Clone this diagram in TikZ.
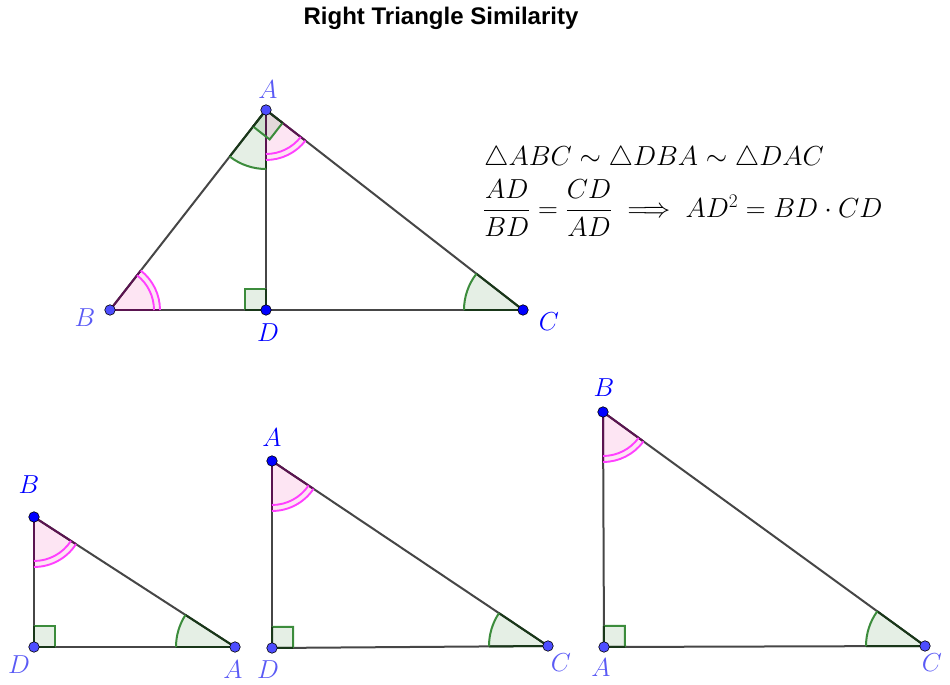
\RequirePackage{fix-cm}
\documentclass[tikz,border=0pt]{standalone}
\usepackage{amsmath}
\usepackage{fontspec}
\newfontfamily\titlefont{Liberation Sans}
\usetikzlibrary{angles,calc}
\definecolor{segc}{RGB}{70,70,70}
\definecolor{pinkarc}{RGB}{255,64,255}
\definecolor{pinkedge}{RGB}{90,20,80}
\definecolor{greenarc}{RGB}{60,140,60}
\definecolor{greenedge}{RGB}{25,55,25}
\definecolor{ptdark}{RGB}{0,0,255}
\definecolor{ptlight}{RGB}{77,77,255}
\definecolor{lbllight}{RGB}{90,90,245}
\tikzset{
  segline/.style={draw=segc, line width=2pt},
  pfill/.style={fill=magenta, fill opacity=0.1},
  gfill/.style={fill={rgb,255:red,0;green,100;blue,0}, fill opacity=0.1},
  pedge/.style={draw=pinkedge, line width=2pt},
  gedge/.style={draw=greenedge, line width=2pt},
  parc/.style={draw=pinkarc, line width=1.9pt},
  garc/.style={draw=greenarc, line width=2pt},
  ptd/.style={circle, fill=ptdark, draw=black, line width=0.6pt, inner sep=0pt, minimum size=10.5pt},
  ptl/.style={circle, fill=ptlight, draw=black, line width=0.6pt, inner sep=0pt, minimum size=10.5pt},
  lbld/.style={text=ptdark, font=\fontsize{26}{26}\selectfont},
  lbll/.style={text=lbllight, font=\fontsize{26}{26}\selectfont},
}
\newcommand\pinkang[3]{%
  \pic[pfill, angle radius=50pt]{angle=#1--#2--#3};
  \draw[pedge] (#2) -- ($(#2)!50pt!(#1)$);
  \draw[pedge] (#2) -- ($(#2)!50pt!(#3)$);
  \pic[parc, angle radius=50pt]{angle=#1--#2--#3};
  \pic[parc, angle radius=44pt]{angle=#1--#2--#3};
}
\newcommand\greenang[3]{%
  \pic[gfill, angle radius=59pt]{angle=#1--#2--#3};
  \draw[gedge] (#2) -- ($(#2)!59pt!(#1)$);
  \draw[gedge] (#2) -- ($(#2)!59pt!(#3)$);
  \pic[garc, angle radius=59pt]{angle=#1--#2--#3};
}
\newcommand\rightmk[3]{%
  \coordinate (q1) at ($(#2)!21pt!(#1)$);
  \coordinate (q2) at ($(#2)!21pt!(#3)$);
  \fill[gfill] (#2) -- (q1) -- ($(q1)+(q2)-(#2)$) -- (q2) -- cycle;
  \draw[garc] (q1) -- ($(q1)+(q2)-(#2)$) -- (q2);
  \draw[gedge] (q1) -- (#2) -- (q2);
}
\begin{document}
\begin{tikzpicture}[x=1pt,y=1pt]
\useasboundingbox (0,0) rectangle (950,685);
% title
\node[font=\titlefont\bfseries\fontsize{24}{24}\selectfont] (title) at (441,667) {Right Triangle Similarity};
% top triangle
\coordinate (A) at (266,575);
\coordinate (B) at (110,375);
\coordinate (D) at (266,375);
\coordinate (C) at (523,375);
\draw[segline] (A) -- (B);
\draw[segline] (A) -- (C);
\draw[segline] (B) -- (C);
\draw[segline] (A) -- (D);
\pinkang{D}{B}{A}
\greenang{B}{A}{D}
\pinkang{D}{A}{C}
\greenang{A}{C}{D}
\rightmk{B}{D}{A}
\rightmk{B}{A}{C}
% triangle 1: D B A
\coordinate (B1) at (34,168);
\coordinate (D1) at (34,38);
\coordinate (A1) at (235,38);
\draw[segline] (B1) -- (D1);
\draw[segline] (D1) -- (A1);
\draw[segline] (A1) -- (B1);
\pinkang{D1}{B1}{A1}
\greenang{B1}{A1}{D1}
\rightmk{B1}{D1}{A1}
% triangle 2: D A C
\coordinate (A2) at (272,224);
\coordinate (D2) at (272,37);
\coordinate (C2) at (548,39);
\draw[segline] (A2) -- (D2);
\draw[segline] (D2) -- (C2);
\draw[segline] (C2) -- (A2);
\pinkang{D2}{A2}{C2}
\greenang{A2}{C2}{D2}
\rightmk{A2}{D2}{C2}
% triangle 3: A B C
\coordinate (B3) at (603,273);
\coordinate (A3) at (604,38);
\coordinate (C3) at (925,39);
\draw[segline] (B3) -- (A3);
\draw[segline] (A3) -- (C3);
\draw[segline] (C3) -- (B3);
\pinkang{A3}{B3}{C3}
\greenang{B3}{C3}{A3}
\rightmk{B3}{A3}{C3}
% points
\node[ptl] (pA) at (A) {};
\node[ptl] (pB) at (B) {};
\node[ptd] (pD) at (D) {};
\node[ptd] (pC) at (C) {};
\node[ptd] (pB1) at (B1) {};
\node[ptl] (pD1) at (D1) {};
\node[ptl] (pA1) at (A1) {};
\node[ptd] (pA2) at (A2) {};
\node[ptl] (pD2) at (D2) {};
\node[ptl] (pC2) at (C2) {};
\node[ptd] (pB3) at (B3) {};
\node[ptl] (pA3) at (A3) {};
\node[ptl] (pC3) at (C3) {};
% labels
\node[lbll] (lA) at (268,595) {$A$};
\node[lbll] (lB) at (85,367) {$B$};
\node[lbld] (lD) at (268,352) {$D$};
\node[lbld] (lC) at (549,363) {$C$};
\node[lbld] (lB1) at (29,200) {$B$};
\node[lbll] (lD1) at (19,20) {$D$};
\node[lbll] (lA1) at (233,15) {$A$};
\node[lbld] (lA2) at (272,247) {$A$};
\node[lbll] (lD2) at (268,15) {$D$};
\node[lbll] (lC2) at (561,22) {$C$};
\node[lbld] (lB3) at (604,297) {$B$};
\node[lbll] (lA3) at (601,17) {$A$};
\node[lbll] (lC3) at (932,22) {$C$};
% formulas
\node[anchor=base west, inner sep=0pt, font=\fontsize{27.5}{27.5}\selectfont] (f1) at (484,519)
  {$\triangle ABC\sim\triangle DBA\sim\triangle DAC$};
\node[anchor=west, inner sep=0pt, font=\fontsize{27.5}{27.5}\selectfont] (f2) at (483,477)
  {$\dfrac{AD}{BD}=\dfrac{CD}{AD}\implies AD^2=BD\cdot CD$};
\end{tikzpicture}
\end{document}
